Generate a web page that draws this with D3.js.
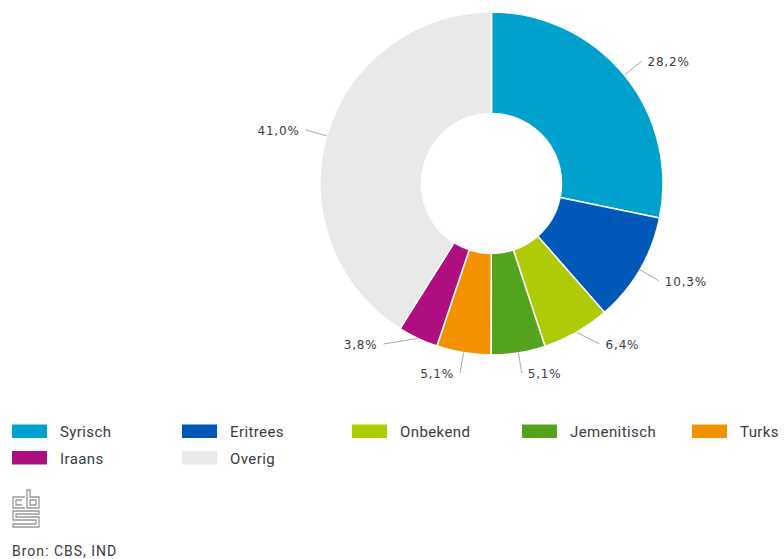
<!DOCTYPE html>
<html>
<head>
<meta charset="utf-8">
<script src="https://cdn.jsdelivr.net/npm/d3@7"></script>
<style>
  body { margin: 0; background: #fff; }
  svg { display: block; font-family: Roboto, "Open Sans", sans-serif; }
  .lbl { font-family: "DejaVu Sans", sans-serif; font-size: 12px; letter-spacing: 0.8px; fill: #3a3a46; }
  .leg { font-size: 15px; letter-spacing: 0.4px; fill: #3a3a46; }
</style>
</head>
<body>
<div id="view"></div>
<script>
// ---------- Data ----------
const categories = ["Syrisch", "Eritrees", "Onbekend", "Jemenitisch", "Turks", "Iraans", "Overig"];
const values     = [28.2, 10.3, 6.4, 5.1, 5.1, 3.8, 41.0];
const colors     = ["#00a1cd", "#0058b8", "#afcb05", "#53a31d", "#f39200", "#af0e80", "#e9e9e9"];
const source     = "Bron: CBS, IND";

const fmtPct = v => d3.format(".1f")(v).replace(".", ",") + "%";

const W = 784, H = 559;
const cx = 491.5, cy = 183.5, R = 171.5, r0 = 70;

const svg = d3.select("#view").append("svg").attr("width", W).attr("height", H);
const rows = categories.map((c, i) => ({ cat: c, val: values[i], color: colors[i] }));

// ---------- Donut ----------
const pie = d3.pie().sort(null).value(d => d.val);
const arcs = pie(rows);
const arc = d3.arc().innerRadius(r0).outerRadius(R);

const g = svg.append("g").attr("transform", `translate(${cx},${cy})`);
g.selectAll("path.slice")
  .data(arcs)
  .join("path")
  .attr("class", "slice")
  .attr("d", arc)
  .attr("fill", d => d.data.color)
  .attr("stroke", "#fff")
  .attr("stroke-width", 1.5)
  .attr("stroke-linejoin", "round");

// ---------- Labels (simple highcharts-like placement) ----------
const LR = R + 22, gap = 29, maxY = 189.5;
const labels = arcs.map(a => {
  const m = (a.startAngle + a.endAngle) / 2;
  return {
    a, m,
    side: Math.sin(m) >= 0 ? 1 : -1,
    sx: Math.sin(m) * R, sy: -Math.cos(m) * R,
    rx: Math.sin(m) * LR, ry: -Math.cos(m) * LR
  };
});
[1, -1].forEach(side => {
  const s = labels.filter(l => l.side === side).sort((p, q) => q.ry - p.ry);
  let limit = maxY;
  s.forEach(l => {
    l.y = Math.min(l.ry, limit);
    limit = l.y - gap;
    // pushed labels slide along the label circle
    l.x = (l.ry - l.y > 4) ? side * Math.sqrt(Math.max(0, LR * LR - l.y * l.y)) : l.rx;
  });
});

g.selectAll("line.conn")
  .data(labels)
  .join("line")
  .attr("class", "conn")
  .attr("x1", d => d.sx).attr("y1", d => d.sy)
  .attr("x2", d => d.x).attr("y2", d => d.y)
  .attr("stroke", "#aaa")
  .attr("stroke-width", 1);

g.selectAll("text.lbl")
  .data(labels)
  .join("text")
  .attr("class", "lbl")
  .attr("x", d => d.x + d.side * 6)
  .attr("y", d => d.y + 1)
  .attr("dy", "0.35em")
  .attr("text-anchor", d => d.side > 0 ? "start" : "end")
  .text(d => fmtPct(d.a.data.val));

// ---------- Legend ----------
const legX = 12, legY = 437, colW = 170, rowH = 26.5, perRow = 5;
const leg = svg.append("g");
const items = leg.selectAll("g.item")
  .data(rows)
  .join("g")
  .attr("class", "item")
  .attr("transform", (d, i) => `translate(${legX + (i % perRow) * colW},${legY + Math.floor(i / perRow) * rowH})`);
items.append("rect")
  .attr("x", 0).attr("y", -12.5)
  .attr("width", 35).attr("height", 13.5)
  .attr("fill", d => d.color);
items.append("text")
  .attr("class", "leg")
  .attr("x", 48).attr("y", 0)
  .text(d => d.cat);

// ---------- CBS logo ----------
const logo = svg.append("g")
  .attr("transform", "translate(12,489)")
  .attr("fill", "none")
  .attr("stroke", "#999")
  .attr("stroke-width", 1.3);
// "c"
logo.append("path").attr("d", "M13,8 H1 V19 H13 M10,11 H4 V16 H10");
// "b"
logo.append("path").attr("d", "M15,1 V19 H27 V8 H18 V1 Z M18,11 H24 V16 H18 Z");
// "s"
logo.append("path").attr("d", "M27,22 H1 V31 H24 V35 H1 V38 H27 V28 H4 V25 H27 Z");

// ---------- Source ----------
svg.append("text")
  .attr("x", 12).attr("y", 556)
  .attr("font-size", 14)
  .attr("letter-spacing", 1)
  .attr("fill", "#3a3a46")
  .text(source);
</script>
</body>
</html>
